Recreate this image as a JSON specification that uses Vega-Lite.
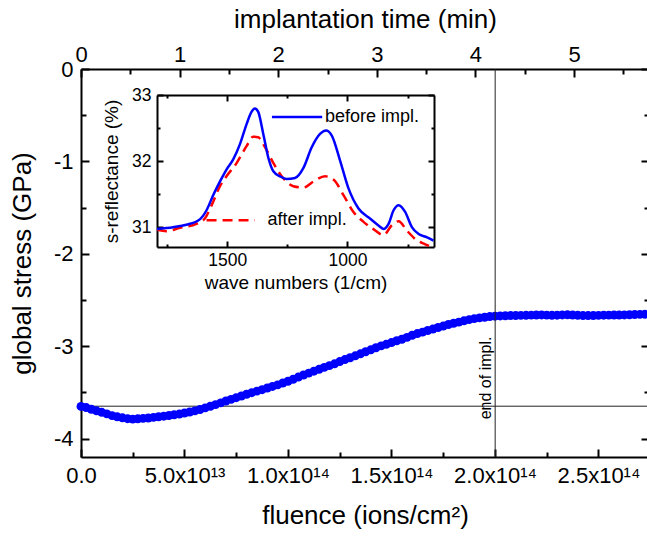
{
  "$schema": "https://vega.github.io/schema/vega-lite/v6.json",
  "width": 568,
  "height": 388,
  "autosize": "none",
  "padding": {"left": 81, "top": 69, "right": 0, "bottom": 80},
  "background": "white",
  "config": {
    "view": {"stroke": null},
    "axis": {
      "grid": false,
      "domainColor": "black",
      "domainWidth": 2,
      "tickColor": "black",
      "tickWidth": 2,
      "labelFont": "Liberation Sans",
      "titleFont": "Liberation Sans",
      "labelColor": "black",
      "titleColor": "black",
      "titleFontWeight": "normal",
      "labelOverlap": false,
      "labelFlush": false
    }
  },
  "datasets": {
    "stress": [
      {"f": 0, "s": -3.652}, {"f": 2.5e12, "s": -3.665}, {"f": 5e12, "s": -3.683}, {"f": 7.5e12, "s": -3.700},
      {"f": 1e13, "s": -3.716}, {"f": 1.25e13, "s": -3.733}, {"f": 1.5e13, "s": -3.752}, {"f": 1.75e13, "s": -3.765},
      {"f": 2e13, "s": -3.776}, {"f": 2.25e13, "s": -3.785}, {"f": 2.5e13, "s": -3.790}, {"f": 2.75e13, "s": -3.786},
      {"f": 3e13, "s": -3.782}, {"f": 3.25e13, "s": -3.778}, {"f": 3.5e13, "s": -3.771}, {"f": 3.75e13, "s": -3.764},
      {"f": 4e13, "s": -3.758}, {"f": 4.25e13, "s": -3.751}, {"f": 4.5e13, "s": -3.743}, {"f": 4.75e13, "s": -3.735},
      {"f": 5e13, "s": -3.724}, {"f": 5.25e13, "s": -3.713}, {"f": 5.5e13, "s": -3.701}, {"f": 5.75e13, "s": -3.686},
      {"f": 6e13, "s": -3.668}, {"f": 6.25e13, "s": -3.651}, {"f": 6.5e13, "s": -3.633}, {"f": 6.75e13, "s": -3.614},
      {"f": 7e13, "s": -3.594}, {"f": 7.25e13, "s": -3.576}, {"f": 7.5e13, "s": -3.558}, {"f": 7.75e13, "s": -3.540},
      {"f": 8e13, "s": -3.521}, {"f": 8.25e13, "s": -3.504}, {"f": 8.5e13, "s": -3.487}, {"f": 8.75e13, "s": -3.471},
      {"f": 9e13, "s": -3.453}, {"f": 9.25e13, "s": -3.436}, {"f": 9.5e13, "s": -3.419}, {"f": 9.75e13, "s": -3.399},
      {"f": 1e14, "s": -3.380}, {"f": 1.025e14, "s": -3.358}, {"f": 1.05e14, "s": -3.335}, {"f": 1.075e14, "s": -3.312},
      {"f": 1.1e14, "s": -3.292}, {"f": 1.125e14, "s": -3.271}, {"f": 1.15e14, "s": -3.251}, {"f": 1.175e14, "s": -3.230},
      {"f": 1.2e14, "s": -3.211}, {"f": 1.225e14, "s": -3.191}, {"f": 1.25e14, "s": -3.167}, {"f": 1.275e14, "s": -3.145},
      {"f": 1.3e14, "s": -3.126}, {"f": 1.325e14, "s": -3.105}, {"f": 1.35e14, "s": -3.083}, {"f": 1.375e14, "s": -3.061},
      {"f": 1.4e14, "s": -3.040}, {"f": 1.425e14, "s": -3.017}, {"f": 1.45e14, "s": -2.997}, {"f": 1.475e14, "s": -2.980},
      {"f": 1.5e14, "s": -2.961}, {"f": 1.525e14, "s": -2.942}, {"f": 1.55e14, "s": -2.925}, {"f": 1.575e14, "s": -2.905},
      {"f": 1.6e14, "s": -2.882}, {"f": 1.625e14, "s": -2.864}, {"f": 1.65e14, "s": -2.848}, {"f": 1.675e14, "s": -2.831},
      {"f": 1.7e14, "s": -2.815}, {"f": 1.725e14, "s": -2.798}, {"f": 1.75e14, "s": -2.783}, {"f": 1.775e14, "s": -2.766},
      {"f": 1.8e14, "s": -2.752}, {"f": 1.825e14, "s": -2.740}, {"f": 1.85e14, "s": -2.726}, {"f": 1.875e14, "s": -2.713},
      {"f": 1.9e14, "s": -2.702}, {"f": 1.925e14, "s": -2.694}, {"f": 1.95e14, "s": -2.687}, {"f": 1.975e14, "s": -2.680},
      {"f": 2e14, "s": -2.676}, {"f": 2.025e14, "s": -2.673}, {"f": 2.05e14, "s": -2.671}, {"f": 2.075e14, "s": -2.669},
      {"f": 2.1e14, "s": -2.668}, {"f": 2.125e14, "s": -2.667}, {"f": 2.15e14, "s": -2.666}, {"f": 2.175e14, "s": -2.664},
      {"f": 2.2e14, "s": -2.663}, {"f": 2.225e14, "s": -2.662}, {"f": 2.25e14, "s": -2.664}, {"f": 2.275e14, "s": -2.666},
      {"f": 2.3e14, "s": -2.665}, {"f": 2.325e14, "s": -2.662}, {"f": 2.35e14, "s": -2.661}, {"f": 2.375e14, "s": -2.663},
      {"f": 2.4e14, "s": -2.666}, {"f": 2.425e14, "s": -2.668}, {"f": 2.45e14, "s": -2.669}, {"f": 2.475e14, "s": -2.668},
      {"f": 2.5e14, "s": -2.667}, {"f": 2.525e14, "s": -2.665}, {"f": 2.55e14, "s": -2.664}, {"f": 2.575e14, "s": -2.663},
      {"f": 2.6e14, "s": -2.663}, {"f": 2.625e14, "s": -2.662}, {"f": 2.65e14, "s": -2.660}, {"f": 2.675e14, "s": -2.658},
      {"f": 2.7e14, "s": -2.656}, {"f": 2.725e14, "s": -2.655}, {"f": 2.75e14, "s": -2.654}
    ],
    "before": [
      {"w": 1792, "r": 30.974}, {"w": 1725, "r": 31.0}, {"w": 1670, "r": 31.036}, {"w": 1614, "r": 31.118},
      {"w": 1586, "r": 31.256}, {"w": 1558, "r": 31.487}, {"w": 1530, "r": 31.692}, {"w": 1503, "r": 31.872},
      {"w": 1475, "r": 32.026}, {"w": 1447, "r": 32.256}, {"w": 1419, "r": 32.564}, {"w": 1399, "r": 32.744},
      {"w": 1385, "r": 32.795}, {"w": 1371, "r": 32.744}, {"w": 1350, "r": 32.41}, {"w": 1329, "r": 32.051},
      {"w": 1308, "r": 31.846}, {"w": 1280, "r": 31.769}, {"w": 1253, "r": 31.728}, {"w": 1218, "r": 31.744},
      {"w": 1183, "r": 31.897}, {"w": 1149, "r": 32.205}, {"w": 1114, "r": 32.41}, {"w": 1089, "r": 32.462},
      {"w": 1065, "r": 32.385}, {"w": 1030, "r": 32.0}, {"w": 996, "r": 31.59}, {"w": 954, "r": 31.282},
      {"w": 905, "r": 31.128}, {"w": 871, "r": 31.026}, {"w": 850, "r": 30.974}, {"w": 829, "r": 31.051},
      {"w": 808, "r": 31.256}, {"w": 787, "r": 31.333}, {"w": 760, "r": 31.231}, {"w": 732, "r": 31.0},
      {"w": 704, "r": 30.897}, {"w": 669, "r": 30.846}, {"w": 642, "r": 30.795}
    ],
    "after": [
      {"w": 1792, "r": 30.96}, {"w": 1753, "r": 30.94}, {"w": 1697, "r": 30.99}, {"w": 1628, "r": 31.05},
      {"w": 1593, "r": 31.13}, {"w": 1565, "r": 31.33}, {"w": 1530, "r": 31.62}, {"w": 1503, "r": 31.77},
      {"w": 1461, "r": 31.97}, {"w": 1419, "r": 32.23}, {"w": 1392, "r": 32.37}, {"w": 1371, "r": 32.36},
      {"w": 1343, "r": 32.21}, {"w": 1308, "r": 31.97}, {"w": 1267, "r": 31.74}, {"w": 1225, "r": 31.62},
      {"w": 1183, "r": 31.6}, {"w": 1142, "r": 31.69}, {"w": 1093, "r": 31.77}, {"w": 1058, "r": 31.72},
      {"w": 1017, "r": 31.49}, {"w": 975, "r": 31.23}, {"w": 933, "r": 31.08}, {"w": 892, "r": 30.97},
      {"w": 850, "r": 30.88}, {"w": 815, "r": 31.03}, {"w": 787, "r": 31.09}, {"w": 753, "r": 30.95},
      {"w": 718, "r": 30.82}, {"w": 676, "r": 30.74}, {"w": 642, "r": 30.69}
    ]
  },
  "layer": [
    {
      "layer": [
        {
          "data": {"values": [{}]},
          "mark": {"type": "rule", "color": "#222222", "strokeWidth": 1},
          "encoding": {
            "y": {
              "datum": -3.65, "type": "quantitative",
              "scale": {"domain": [-4.2, 0], "nice": false, "zero": false},
              "axis": {
                "orient": "right", "labels": false, "title": null,
                "values": [-4, -3.5, -3, -2.5, -2, -1.5, -1, -0.5, 0],
                "tickSize": {"condition": {"test": "datum.value % 1 != 0", "value": -5}, "value": -8}
              }
            }
          }
        },
        {
          "data": {"values": [{}]},
          "mark": {"type": "text", "text": "end of impl.", "angle": 270, "align": "center", "baseline": "alphabetic", "dy": -4, "fontSize": 16, "font": "Liberation Sans", "color": "black"},
          "encoding": {
            "x": {"datum": 2e14, "type": "quantitative", "scale": {"domain": [0, 2.744e14], "nice": false, "zero": false}, "axis": null},
            "y": {"datum": -3.344, "type": "quantitative", "scale": {"domain": [-4.2, 0], "nice": false, "zero": false}, "axis": null}
          }
        },
        {
          "data": {"name": "stress"},
          "mark": {"type": "circle", "size": 80, "color": "#0000ff", "opacity": 1},
          "encoding": {
            "x": {
              "field": "f", "type": "quantitative",
              "scale": {"domain": [0, 2.744e14], "nice": false, "zero": false},
              "axis": {
                "orient": "bottom",
                "values": [0, 25000000000000, 50000000000000, 75000000000000, 100000000000000, 125000000000000, 150000000000000, 175000000000000, 200000000000000, 225000000000000, 250000000000000],
                "labelExpr": "datum.value == 0 ? '0.0' : datum.value == 50000000000000 ? '5.0x10¹³' : datum.value == 100000000000000 ? '1.0x10¹⁴' : datum.value == 150000000000000 ? '1.5x10¹⁴' : datum.value == 200000000000000 ? '2.0x10¹⁴' : datum.value == 250000000000000 ? '2.5x10¹⁴' : ''",
                "labelFontSize": 22,
                "labelPadding": 16,
                "tickSize": {"condition": {"test": "datum.value % 50000000000000 != 0", "value": -5}, "value": -8},
                "title": "fluence (ions/cm²)",
                "titleFontSize": 26,
                "titlePadding": 13
              }
            },
            "y": {
              "field": "s", "type": "quantitative",
              "scale": {"domain": [-4.2, 0], "nice": false, "zero": false},
              "axis": {
                "orient": "left",
                "values": [-4, -3.5, -3, -2.5, -2, -1.5, -1, -0.5, 0],
                "labelExpr": "datum.value % 1 == 0 ? toString(datum.value) : ''",
                "labelFontSize": 22,
                "labelPadding": 16,
                "tickSize": {"condition": {"test": "datum.value % 1 != 0", "value": -5}, "value": -8},
                "title": "global stress (GPa)",
                "titleFontSize": 26,
                "titlePadding": 18
              }
            }
          }
        }
      ],
      "resolve": {"axis": {"x": "independent", "y": "independent"}}
    },
    {
      "data": {"values": [{}]},
      "mark": {"type": "rule", "color": "#222222", "strokeWidth": 1},
      "encoding": {
        "x": {
          "datum": 4.2, "type": "quantitative",
          "scale": {"domain": [0, 5.76], "nice": false, "zero": false},
          "axis": {
            "orient": "top",
            "values": [0, 0.5, 1, 1.5, 2, 2.5, 3, 3.5, 4, 4.5, 5, 5.5],
            "labelExpr": "datum.value % 1 == 0 ? toString(datum.value) : ''",
            "labelFontSize": 22,
            "labelPadding": 11,
            "tickSize": {"condition": {"test": "datum.value % 1 != 0", "value": -5}, "value": -8},
            "title": "implantation time (min)",
            "titleFontSize": 26,
            "titlePadding": 8
          }
        }
      }
    },
    {
      "layer": [
        {
          "data": {"name": "after"},
          "mark": {"type": "line", "color": "#ff0000", "strokeWidth": 2.5, "strokeDash": [10, 6], "interpolate": "monotone"},
          "encoding": {
            "x": {
              "field": "w", "type": "quantitative",
              "scale": {"domain": [640, 1792], "range": [353, 76], "nice": false, "zero": false},
              "axis": {
                "orient": "top", "offset": -26, "labels": false, "title": null,
                "values": [750, 1000, 1250, 1500, 1750],
                "tickSize": {"condition": {"test": "datum.value % 500 != 0", "value": -3}, "value": -6}
              }
            },
            "y": {
              "field": "r", "type": "quantitative",
              "scale": {"domain": [30.7, 33], "range": [178, 26], "nice": false, "zero": false},
              "axis": {
                "orient": "right", "offset": -215, "labels": false, "title": null,
                "values": [31, 31.5, 32, 32.5, 33],
                "tickSize": {"condition": {"test": "datum.value % 1 != 0", "value": -3}, "value": -6}
              }
            }
          }
        },
        {
          "data": {"name": "before"},
          "mark": {"type": "line", "color": "#0000ff", "strokeWidth": 2.5, "interpolate": "monotone"},
          "encoding": {
            "x": {
              "field": "w", "type": "quantitative",
              "scale": {"domain": [640, 1792], "range": [353, 76], "nice": false, "zero": false},
              "axis": {
                "orient": "bottom", "offset": -210,
                "values": [750, 1000, 1250, 1500, 1750],
                "labelExpr": "datum.value % 500 == 0 ? toString(datum.value) : ''",
                "labelFontSize": 17.5,
                "labelPadding": 10,
                "tickSize": {"condition": {"test": "datum.value % 500 != 0", "value": -3}, "value": -6},
                "title": "wave numbers (1/cm)",
                "titleFontSize": 19,
                "titlePadding": 2
              }
            },
            "y": {
              "field": "r", "type": "quantitative",
              "scale": {"domain": [30.7, 33], "range": [178, 26], "nice": false, "zero": false},
              "axis": {
                "orient": "left", "offset": -76,
                "values": [31, 31.5, 32, 32.5, 33],
                "labelExpr": "datum.value % 1 == 0 ? toString(datum.value) : ''",
                "labelFontSize": 17.5,
                "labelPadding": 12,
                "tickSize": {"condition": {"test": "datum.value % 1 != 0", "value": -3}, "value": -6},
                "title": "s-reflectance (%)",
                "titleFontSize": 19,
                "titlePadding": 10
              }
            }
          }
        },
        {
          "data": {"values": [{}]},
          "mark": {"type": "rule", "color": "#0000ff", "strokeWidth": 2.5},
          "encoding": {
            "x": {"datum": 1314, "type": "quantitative", "scale": {"domain": [640, 1792], "range": [353, 76], "nice": false, "zero": false}, "axis": null},
            "x2": {"datum": 1105},
            "y": {"datum": 32.667, "type": "quantitative", "scale": {"domain": [30.7, 33], "range": [178, 26], "nice": false, "zero": false}, "axis": null}
          }
        },
        {
          "data": {"values": [{}]},
          "mark": {"type": "rule", "color": "#ff0000", "strokeWidth": 2.5, "strokeDash": [10, 6]},
          "encoding": {
            "x": {"datum": 1586, "type": "quantitative", "scale": {"domain": [640, 1792], "range": [353, 76], "nice": false, "zero": false}, "axis": null},
            "x2": {"datum": 1385},
            "y": {"datum": 31.103, "type": "quantitative", "scale": {"domain": [30.7, 33], "range": [178, 26], "nice": false, "zero": false}, "axis": null}
          }
        },
        {
          "data": {"values": [{}]},
          "mark": {"type": "text", "text": "before impl.", "align": "left", "baseline": "middle", "fontSize": 18, "font": "Liberation Sans", "color": "black"},
          "encoding": {
            "x": {"datum": 1093, "type": "quantitative", "scale": {"domain": [640, 1792], "range": [353, 76], "nice": false, "zero": false}, "axis": null},
            "y": {"datum": 32.667, "type": "quantitative", "scale": {"domain": [30.7, 33], "range": [178, 26], "nice": false, "zero": false}, "axis": null}
          }
        },
        {
          "data": {"values": [{}]},
          "mark": {"type": "text", "text": "after impl.", "align": "left", "baseline": "middle", "fontSize": 18, "font": "Liberation Sans", "color": "black"},
          "encoding": {
            "x": {"datum": 1332, "type": "quantitative", "scale": {"domain": [640, 1792], "range": [353, 76], "nice": false, "zero": false}, "axis": null},
            "y": {"datum": 31.103, "type": "quantitative", "scale": {"domain": [30.7, 33], "range": [178, 26], "nice": false, "zero": false}, "axis": null}
          }
        }
      ],
      "resolve": {"axis": {"x": "independent", "y": "independent"}}
    }
  ],
  "resolve": {
    "scale": {"x": "independent", "y": "independent"},
    "axis": {"x": "independent", "y": "independent"}
  }
}
